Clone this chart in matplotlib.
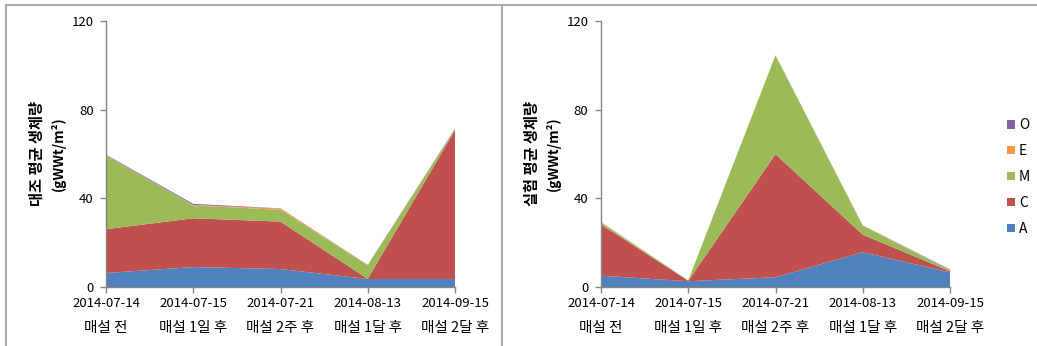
import numpy as np
import matplotlib.pyplot as plt
from matplotlib.patches import Patch
from matplotlib.lines import Line2D

plt.rcParams['font.family'] = ['Noto Sans CJK KR', 'DejaVu Sans']

dates = ['2014-07-14', '2014-07-15', '2014-07-21', '2014-08-13', '2014-09-15']
stages = ['매설 전', '매설 1일 후', '매설 2주 후', '매설 1달 후', '매설 2달 후']

# 대조구 biomass by group (gWWt/m²)
ctrl_A = [6.3, 9.0, 8.1, 3.6, 3.6]
ctrl_C = [19.8, 22.0, 21.4, 0.1, 67.2]
ctrl_M = [33.2, 5.8, 5.3, 6.1, 0.5]
ctrl_E = [0.1, 0.2, 0.6, 0.1, 0.1]
ctrl_O = [0.3, 0.5, 0.1, 0.1, 0.1]

# 실험구 biomass by group (gWWt/m²)
exp_A = [5.1, 2.6, 4.4, 15.7, 6.6]
exp_C = [23.1, 0.2, 55.5, 7.9, 0.5]
exp_M = [0.9, 0.2, 44.6, 4.0, 0.4]
exp_E = [0.1, 0.0, 0.1, 0.1, 0.1]
exp_O = [0.1, 0.0, 0.0, 0.1, 0.3]

groups = ['A', 'C', 'M', 'E', 'O']
colors = ['#4F81BD', '#C0504D', '#9BBB59', '#F79646', '#8064A2']

W, H = 1037, 346
fig = plt.figure(figsize=(W / 100, H / 100), dpi=100)


def panel(left, series, ylabel):
    ax = fig.add_axes([left / W, 1 - 287 / H, 349 / W, 266 / H])
    x = np.arange(len(dates))
    ax.stackplot(x, *series, colors=colors, linewidth=0)
    ax.set_xlim(0, len(dates) - 1)
    ax.set_ylim(0, 120)
    ax.set_yticks([0, 40, 80, 120])
    ax.set_xticks(x)
    ax.set_xticklabels(dates)
    ax.tick_params(axis='both', labelsize=9.5, color='#868686', length=4,
                   width=1, direction='out')
    ax.tick_params(axis='x', pad=3)
    ax.tick_params(axis='y', pad=5)
    # second row of category labels
    for xi, s in zip(x, stages):
        ax.annotate(s, (xi, 0), xycoords=('data', 'axes fraction'),
                    xytext=(0, -29.5), textcoords='offset points',
                    ha='center', va='center', fontsize=10.5)
    for side in ['top', 'right']:
        ax.spines[side].set_visible(False)
    for side in ['left', 'bottom']:
        ax.spines[side].set_color('#868686')
        ax.spines[side].set_linewidth(1)
    ax.text(-69 / 349, 0.5, ylabel, transform=ax.transAxes, rotation=90,
            ha='center', va='center', fontsize=11, fontweight='bold')
    ax.text(-48 / 349, 0.5, '(gWWt/m²)', transform=ax.transAxes, rotation=90,
            ha='center', va='center', fontsize=10, fontweight='bold')
    return ax


panel(106, [ctrl_A, ctrl_C, ctrl_M, ctrl_E, ctrl_O], '대조 평균 생체량')
panel(601, [exp_A, exp_C, exp_M, exp_E, exp_O], '실험 평균 생체량')

handles = [Patch(facecolor=c, label=g) for g, c in zip(groups, colors)][::-1]
fig.legend(handles=handles, loc='center left', bbox_to_anchor=(1007 / W, 1 - 177 / H),
           frameon=False, fontsize=10, handlelength=0.55, handleheight=0.55,
           handletextpad=0.3, labelspacing=0.85, borderpad=0, borderaxespad=0)

# chart frames
frame = dict(color='#ABABAB', linewidth=1.5, transform=fig.transFigure)
fig.add_artist(Line2D([6 / W, 6 / W], [0, 1 - 5 / H], **frame))
fig.add_artist(Line2D([6 / W, 1], [1 - 5 / H, 1 - 5 / H], **frame))
fig.add_artist(Line2D([502 / W, 502 / W], [0, 1 - 5 / H], **frame))

fig.savefig('out.png', dpi=100)
